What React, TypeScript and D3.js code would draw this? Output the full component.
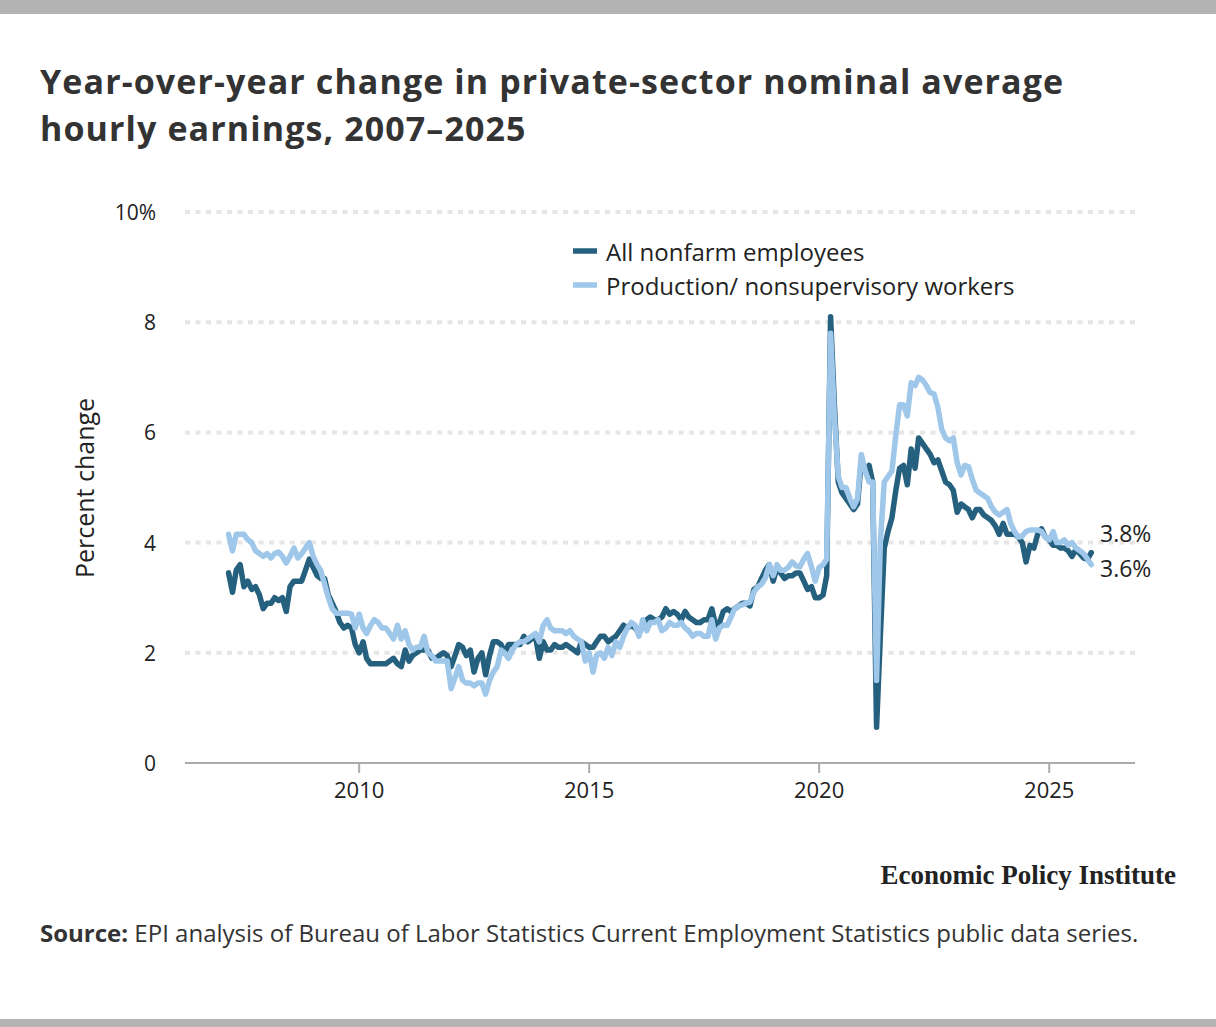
import * as d3 from "d3";

// Monthly year-over-year % change, March 2007 through December 2025
const START_YEAR = 2007;
const START_MONTH = 2; // March (0-based)

const allNonfarm = [
  // 2007 (Mar-Dec)
  3.45, 3.1, 3.5, 3.6, 3.2, 3.3, 3.15, 3.2, 3.05, 2.8,
  // 2008
  2.9, 2.9, 3.0, 2.95, 3.0, 2.75, 3.2, 3.3, 3.3, 3.3, 3.5, 3.7,
  // 2009
  3.55, 3.4, 3.35, 3.35, 3.05, 2.9, 2.75, 2.55, 2.45, 2.5, 2.45, 2.15,
  // 2010
  2.0, 2.2, 1.9, 1.8, 1.8, 1.8, 1.8, 1.8, 1.85, 1.9, 1.8, 1.75,
  // 2011
  2.05, 1.85, 1.95, 2.0, 2.05, 2.05, 2.05, 1.9, 1.9, 1.95, 2.0, 1.95,
  // 2012
  1.75, 1.95, 2.15, 2.1, 1.95, 2.05, 1.65, 1.9, 2.0, 1.6, 1.95, 2.2,
  // 2013
  2.2, 2.15, 2.0, 2.15, 2.15, 2.15, 2.15, 2.3, 2.2, 2.25, 2.3, 1.9,
  // 2014
  2.2, 2.05, 2.05, 2.15, 2.1, 2.1, 2.15, 2.1, 2.05, 2.0, 2.2, 2.15,
  // 2015
  2.1, 2.1, 2.2, 2.3, 2.3, 2.2, 2.25, 2.3, 2.4, 2.5, 2.45, 2.5,
  // 2016
  2.45, 2.35, 2.5, 2.6, 2.65, 2.6, 2.6, 2.65, 2.8, 2.7, 2.75, 2.7,
  // 2017
  2.6, 2.75, 2.65, 2.6, 2.55, 2.55, 2.6, 2.6, 2.8, 2.5, 2.55, 2.75,
  // 2018
  2.8, 2.75, 2.8, 2.85, 2.9, 2.9, 2.85, 3.15, 3.2, 3.35, 3.5, 3.6,
  // 2019
  3.3, 3.55, 3.45, 3.35, 3.4, 3.4, 3.45, 3.45, 3.3, 3.15, 3.2, 3.0,
  // 2020
  3.0, 3.05, 3.4, 8.1, 6.5, 5.1, 4.9, 4.8, 4.7, 4.6, 4.7, 5.5,
  // 2021
  5.3, 5.4, 5.1, 0.65, 2.3, 3.9, 4.2, 4.45, 4.95, 5.35, 5.4, 5.05,
  // 2022
  5.7, 5.35, 5.9, 5.8, 5.7, 5.6, 5.45, 5.5, 5.3, 5.1, 5.05, 4.95,
  // 2023
  4.55, 4.7, 4.65, 4.6, 4.45, 4.6, 4.6, 4.5, 4.45, 4.4, 4.3, 4.15,
  // 2024
  4.35, 4.15, 4.15, 4.15, 4.1, 4.0, 3.65, 3.95, 3.9, 4.15, 4.25, 4.1,
  // 2025
  4.05, 3.95, 3.95, 3.9, 3.9, 3.85, 3.75, 3.87, 3.8, 3.72, 3.7, 3.82,
];

const production = [
  // 2007 (Mar-Dec)
  4.15, 3.85, 4.15, 4.15, 4.15, 4.05, 4.0, 3.85, 3.8, 3.75,
  // 2008
  3.8, 3.72, 3.8, 3.83, 3.75, 3.63, 3.75, 3.9, 3.72, 3.8, 3.9, 4.0,
  // 2009
  3.75, 3.6, 3.5, 3.25, 3.0, 2.8, 2.72, 2.72, 2.72, 2.72, 2.7, 2.45,
  // 2010
  2.7, 2.45, 2.35, 2.5, 2.6, 2.55, 2.45, 2.45, 2.35, 2.25, 2.5, 2.25,
  // 2011
  2.4, 2.15, 2.05, 2.1, 2.1, 2.3, 2.0, 1.95, 1.85, 1.85, 1.85, 1.85,
  // 2012
  1.35, 1.55, 1.75, 1.5, 1.45, 1.45, 1.4, 1.45, 1.45, 1.25, 1.5, 1.65,
  // 2013
  1.75, 2.05, 2.0, 1.9, 2.05, 2.15, 2.2, 2.2, 2.25, 2.3, 2.35, 2.2,
  // 2014
  2.5, 2.6, 2.45, 2.4, 2.4, 2.4, 2.35, 2.4, 2.3, 2.25, 2.2, 1.85,
  // 2015
  2.0, 1.65, 1.95, 2.0, 1.9, 2.1, 1.95, 2.2, 2.1, 2.3, 2.45, 2.55,
  // 2016
  2.5, 2.3, 2.6, 2.4, 2.55, 2.55, 2.6, 2.4, 2.45, 2.55, 2.5, 2.5,
  // 2017
  2.55, 2.45, 2.4, 2.3, 2.35, 2.35, 2.3, 2.3, 2.6, 2.25, 2.45, 2.5,
  // 2018
  2.5, 2.65, 2.8, 2.85, 2.87, 2.9, 2.92, 3.1, 3.2, 3.25, 3.36, 3.6,
  // 2019
  3.4, 3.6, 3.5, 3.5, 3.55, 3.65, 3.58, 3.56, 3.7, 3.8, 3.56, 3.3,
  // 2020
  3.55, 3.6, 3.7, 7.8, 6.3, 5.2, 5.0, 5.0, 4.8, 4.65, 4.8, 5.6,
  // 2021
  5.3, 5.1, 5.1, 1.5, 4.0, 5.1, 5.2, 5.3, 5.95, 6.5, 6.5, 6.3,
  // 2022
  6.9, 6.85, 7.0, 6.95, 6.85, 6.72, 6.7, 6.45, 6.05, 5.9, 5.85, 5.9,
  // 2023
  5.45, 5.23, 5.4, 5.38, 5.15, 4.95, 4.9, 4.85, 4.8, 4.65, 4.55, 4.5,
  // 2024
  4.55, 4.6, 4.35, 4.2, 4.1, 4.12, 4.2, 4.23, 4.23, 4.23, 4.2, 4.1,
  // 2025
  4.05, 4.2, 4.0, 4.0, 4.05, 3.95, 4.0, 3.9, 3.85, 3.8, 3.7, 3.6,
];

const yTicks = [0, 2, 4, 6, 8, 10];
const xTickYears = [2010, 2015, 2020, 2025];
const seriesNames = ["All nonfarm employees", "Production/ nonsupervisory workers"];
const endLabels = ["3.8%", "3.6%"];

const DARK = "#25607f";
const LIGHT = "#9ec7e9";
const FONT = "'Open Sans', Lato, sans-serif";

const monthDate = (i: number) => new Date(START_YEAR, START_MONTH + i, 1);

export default function App() {
  const width = 1216;
  const height = 1027;

  const x = d3
    .scaleTime()
    .domain([new Date(2006, 2, 20), new Date(2026, 10, 13)])
    .range([185, 1135]);

  const y = d3.scaleLinear().domain([0, 10]).range([763, 212]);

  const line = d3
    .line<number>()
    .x((_, i) => x(monthDate(i)))
    .y((d) => y(d));

  const series = [
    { name: seriesNames[0], values: allNonfarm, color: DARK },
    { name: seriesNames[1], values: production, color: LIGHT },
  ];

  return (
    <div style={{ position: "absolute", left: 0, top: 0 }}>
      <svg width={width} height={height} style={{ display: "block", background: "#fff" }}>
        {/* frame bars */}
        <rect x={0} y={0} width={width} height={14} fill="#b3b3b3" />
        <rect x={0} y={1019} width={width} height={8} fill="#b3b3b3" />

        {/* title */}
        <g fontFamily={FONT} fontWeight={700} fontSize={34} fill="#333" letterSpacing={1.1}>
          <text x={40} y={94}>
            Year-over-year change in private-sector nominal average
          </text>
          <text x={40} y={141}>
            hourly earnings, 2007–2025
          </text>
        </g>

        {/* grid */}
        {yTicks.map((t) =>
          t === 0 ? (
            <line key={t} x1={185} x2={1135} y1={y(t)} y2={y(t)} stroke="#ababab" strokeWidth={2} />
          ) : (
            <line
              key={t}
              x1={185}
              x2={1135}
              y1={y(t)}
              y2={y(t)}
              stroke="#e6e6e6"
              strokeWidth={4}
              strokeDasharray="5 5.5"
            />
          )
        )}

        {/* y labels */}
        {yTicks.map((t) => (
          <text
            key={t}
            x={156}
            y={y(t)}
            textAnchor="end"
            dominantBaseline="central"
            fontFamily={FONT}
            fontSize={21}
            fill="#222"
          >
            {t === 10 ? "10%" : t}
          </text>
        ))}
        <text
          transform={`translate(94, ${488}) rotate(-90)`}
          textAnchor="middle"
          fontFamily={FONT}
          fontSize={25}
          fill="#222"
        >
          Percent change
        </text>

        {/* x ticks + labels */}
        {xTickYears.map((yr) => {
          const px = x(new Date(yr, 0, 1));
          return (
            <g key={yr}>
              <line x1={px} x2={px} y1={763} y2={773} stroke="#ababab" strokeWidth={2} />
              <text
                x={px}
                y={798}
                textAnchor="middle"
                fontFamily={FONT}
                fontSize={22}
                fill="#222"
              >
                {yr}
              </text>
            </g>
          );
        })}

        {/* lines */}
        {series.map((s) => (
          <path
            key={s.name}
            d={line(s.values) || ""}
            fill="none"
            stroke={s.color}
            strokeWidth={5.5}
            strokeLinejoin="round"
            strokeLinecap="round"
          />
        ))}

        {/* end labels */}
        {series.map((s, i) => (
          <text
            key={s.name}
            x={1100}
            y={i === 0 ? 533 : 568}
            dominantBaseline="central"
            fontFamily={FONT}
            fontSize={23}
            fill="#222"
          >
            {endLabels[i]}
          </text>
        ))}

        {/* legend */}
        {series.map((s, i) => (
          <g key={s.name} transform={`translate(573, ${251 + i * 34})`}>
            <line x1={0} x2={24} y1={0} y2={0} stroke={s.color} strokeWidth={5.5} />
            <text x={33} y={0} dominantBaseline="central" fontFamily={FONT} fontSize={24} fill="#222">
              {s.name}
            </text>
          </g>
        ))}

        {/* branding + source */}
        <text
          x={1176}
          y={884}
          textAnchor="end"
          fontFamily="'Liberation Serif', serif"
          fontWeight={700}
          fontSize={27}
          fill="#222"
        >
          Economic Policy Institute
        </text>
        <text x={40} y={942} fontFamily={FONT} fontSize={24} fill="#333">
          <tspan fontWeight={700}>Source:</tspan> EPI analysis of Bureau of Labor Statistics Current Employment
          Statistics public data series.
        </text>
      </svg>
    </div>
  );
}
